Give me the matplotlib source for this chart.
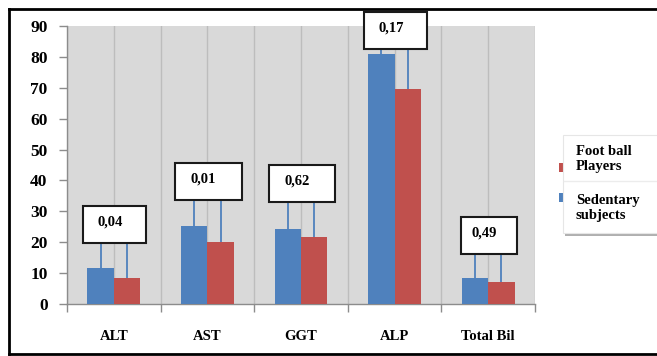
import matplotlib
matplotlib.use("Agg")
import matplotlib.pyplot as plt
from matplotlib.patches import Rectangle
from matplotlib.lines import Line2D
import numpy as np

# Liver enzyme levels by group
categories = ["ALT", "AST", "GGT", "ALP", "Total Bil"]
sedentary = [11.7, 25.2, 24.2, 80.9, 8.3]
football = [8.3, 20.0, 21.8, 69.6, 7.0]
p_values = ["0,04", "0,01", "0,62", "0,17", "0,49"]
# height (axis units) of the lower edge of each p-value box
p_box_bottom = [19.7, 33.7, 33.0, 82.5, 16.2]
series_names = ["Foot ball\nPlayers", "Sedentary\nsubjects"]

BLUE = "#4f81bd"
RED = "#c0504d"
SERIF = "Liberation Serif"

W, H = 657, 356
fig = plt.figure(figsize=(W / 100, H / 100), dpi=100)
fig.patch.set_facecolor("white")

ax = fig.add_axes([67 / W, 1 - 304 / H, (535 - 67) / W, (304 - 26) / H])
ax.set_facecolor("#d9d9d9")

x = np.arange(len(categories))
bw = 0.283
ax.bar(x - bw / 2, sedentary, width=bw, color=BLUE, zorder=3)
ax.bar(x + bw / 2, football, width=bw, color=RED, zorder=3)

# connector lines from each bar up to its p-value box
ax.vlines(x - bw / 2, sedentary, p_box_bottom, color=BLUE, lw=1.3, zorder=2.5)
ax.vlines(x + bw / 2, football, p_box_bottom, color=BLUE, lw=1.3, zorder=2.5)

box_w = [0.67, 0.72, 0.70, 0.67, 0.60]
box_h = 12.0
for xi, lab, yb, bwid in zip(x, p_values, p_box_bottom, box_w):
    ax.add_patch(Rectangle((xi - bwid / 2 + 0.01, yb), bwid, box_h,
                           facecolor="white", edgecolor="#1a1a1a", lw=1.5,
                           zorder=5, clip_on=False))
    ax.text(xi - 0.04, yb + box_h / 2 + 0.8, lab, ha="center", va="center",
            fontsize=10.5, fontweight="bold", family=SERIF, zorder=6,
            clip_on=False)

ax.set_xlim(-0.5, len(categories) - 0.5)
ax.set_ylim(0, 90)
ax.set_yticks(np.arange(0, 91, 10))

# vertical grid at category boundaries and centres
for gx in np.arange(-0.5, len(categories), 0.5):
    ax.axvline(gx, color="#bdbdbd", lw=1, zorder=1)

ax.set_xticks(x)
ax.set_xticklabels(categories)
ax.set_xticks(np.arange(-0.5, len(categories), 1.0), minor=True)
ax.tick_params(axis="x", which="major", length=0, pad=19)
ax.tick_params(axis="x", which="minor", length=6, color="#8c8c8c", width=1)
ax.tick_params(axis="y", length=6, color="#8c8c8c", width=1, pad=8)
for t in ax.get_xticklabels():
    t.set_fontfamily(SERIF)
    t.set_fontweight("bold")
    t.set_fontsize(10.5)
for t in ax.get_yticklabels():
    t.set_fontfamily(SERIF)
    t.set_fontweight("bold")
    t.set_fontsize(12.5)

for s in ["top", "right"]:
    ax.spines[s].set_visible(False)
for s in ["left", "bottom"]:
    ax.spines[s].set_color("#8c8c8c")
    ax.spines[s].set_linewidth(1)

# legend drawn by hand in figure pixels
def fx(px):
    return px / W

def fy(py):
    return 1 - py / H

fig.patches.append(Rectangle((fx(559), fy(172)), 9 / W, 9 / H,
                             transform=fig.transFigure, facecolor=RED,
                             edgecolor="none", zorder=1))
fig.patches.append(Rectangle((fx(559), fy(202)), 9 / W, 9 / H,
                             transform=fig.transFigure, facecolor=BLUE,
                             edgecolor="none", zorder=1))
fig.patches.append(Rectangle((fx(565), fy(236)), 100 / W, 98 / H,
                             transform=fig.transFigure, facecolor="#b0b0b0",
                             edgecolor="none", zorder=2))
fig.patches.append(Rectangle((fx(563), fy(233)), 100 / W, 98 / H,
                             transform=fig.transFigure, facecolor="white",
                             edgecolor="#e6e6e6", lw=0.8, zorder=3))
fig.lines.append(Line2D([fx(564), 1], [fy(181), fy(181)],
                        transform=fig.transFigure, color="#ececec", lw=1,
                        zorder=4))
fig.text(fx(576), fy(159), series_names[0], ha="left", va="center",
         fontsize=10.5, fontweight="bold", family=SERIF, linespacing=1.2,
         zorder=5)
fig.text(fx(576), fy(208), series_names[1], ha="left", va="center",
         fontsize=10.5, fontweight="bold", family=SERIF, linespacing=1.2,
         zorder=5)

# outer frame
frame_kw = dict(transform=fig.transFigure, color="black", lw=2, zorder=10)
fig.lines.append(Line2D([fx(9), fx(9)], [fy(9), fy(354)], **frame_kw))
fig.lines.append(Line2D([fx(9), 1], [fy(9), fy(9)], **frame_kw))
fig.lines.append(Line2D([fx(9), 1], [fy(354), fy(354)], **frame_kw))

fig.savefig("out.png", dpi=100, facecolor="white")
